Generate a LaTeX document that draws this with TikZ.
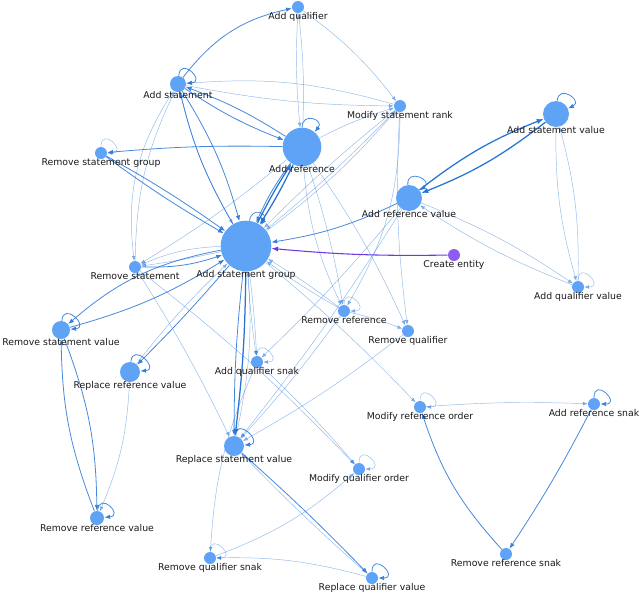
\documentclass[tikz,border=0pt]{standalone}
\usepackage{fontspec}
\setmainfont{DejaVu Sans}
\usetikzlibrary{arrows.meta}
\pgfdeclarelayer{edges}
\pgfdeclarelayer{labels}
\pgfsetlayers{edges,main,labels}
\definecolor{nodeblue}{RGB}{94,163,245}
\definecolor{edgeblue}{RGB}{38,116,214}
\definecolor{cepurple}{RGB}{140,92,245}
\definecolor{edgepurple}{RGB}{108,58,222}
\definecolor{labcol}{RGB}{25,25,25}
\tikzset{
  nd/.style={circle,fill=nodeblue,draw=none,inner sep=0pt,minimum size=#1},
  lab/.style={anchor=north,inner sep=0pt,font=\fontsize{7}{8}\selectfont,text=labcol,yshift=0.9pt},
  e1/.style={draw=edgeblue,opacity=0.5,line width=0.35pt,-{Latex[length=3.6pt,width=2.8pt]}},
  e2/.style={draw=edgeblue,opacity=0.85,line width=0.6pt,-{Latex[length=4.4pt,width=3.4pt]}},
  e3/.style={draw=edgeblue,opacity=1,line width=0.95pt,-{Latex[length=5.2pt,width=4pt]}},
  pe/.style={draw=edgepurple,line width=0.8pt,-{Latex[length=5pt,width=3.8pt]}}
}
\newcommand\sloop[5]{\draw[#1] (#2.#3) .. controls +(#3:#5) and +(#4:#5) .. (#2.#4);}
\begin{document}
\begin{tikzpicture}[x=0.75pt,y=-0.75pt]
\useasboundingbox (0,0) rectangle (640,593);
% nodes
\node[nd=9pt] (AQ) at (298,7) {};
\node[nd=12pt] (AS) at (178,84) {};
\node[nd=9pt] (MSR) at (400,106) {};
\node[nd=29pt] (AR) at (302,147) {};
\node[nd=9pt] (RSG) at (101,153) {};
\node[nd=19.5pt] (ASV) at (556,114) {};
\node[nd=19.5pt] (ARV) at (409,198) {};
\node[nd=38pt] (ASG) at (246,246) {};
\node[nd=9pt] (RS) at (135,267) {};
\node[nd=9pt,fill=cepurple] (CE) at (454,255) {};
\node[nd=9pt] (AQV) at (578,287) {};
\node[nd=9pt] (RR) at (344,311) {};
\node[nd=9pt] (RQ) at (408,331) {};
\node[nd=13.5pt] (RSV) at (61,330) {};
\node[nd=15pt] (RRV) at (130,372) {};
\node[nd=9pt] (AQS) at (257,362) {};
\node[nd=9pt] (MRO) at (420,407) {};
\node[nd=9pt] (ARS) at (594,404) {};
\node[nd=15pt] (RpSV) at (234,446) {};
\node[nd=9pt] (MQO) at (359,469) {};
\node[nd=10.5pt] (RmRV) at (97,518) {};
\node[nd=9pt] (RQS) at (210,558) {};
\node[nd=9pt] (RRS) at (506,554) {};
\node[nd=9pt] (RQV) at (372,578) {};
% labels
\begin{pgfonlayer}{labels}
\node[lab] (lAQ) at (AQ.south) {Add qualifier};
\node[lab] (lAS) at (AS.south) {Add statement};
\node[lab] (lMSR) at (MSR.south) {Modify statement rank};
\node[lab] (lAR) at (AR.south) {Add reference};
\node[lab] (lRSG) at (RSG.south) {Remove statement group};
\node[lab] (lASV) at (ASV.south) {Add statement value};
\node[lab] (lARV) at (ARV.south) {Add reference value};
\node[lab] (lASG) at (ASG.south) {Add statement group};
\node[lab] (lRS) at (RS.south) {Remove statement};
\node[lab] (lCE) at (CE.south) {Create entity};
\node[lab] (lAQV) at (AQV.south) {Add qualifier value};
\node[lab] (lRR) at (RR.south) {Remove reference};
\node[lab] (lRQ) at (RQ.south) {Remove qualifier};
\node[lab] (lRSV) at (RSV.south) {Remove statement value};
\node[lab] (lRRV) at (RRV.south) {Replace reference value};
\node[lab] (lAQS) at (AQS.south) {Add qualifier snak};
\node[lab] (lMRO) at (MRO.south) {Modify reference order};
\node[lab] (lARS) at (ARS.south) {Add reference snak};
\node[lab] (lRpSV) at (RpSV.south) {Replace statement value};
\node[lab] (lMQO) at (MQO.south) {Modify qualifier order};
\node[lab] (lRmRV) at (RmRV.south) {Remove reference value};
\node[lab] (lRQS) at (RQS.south) {Remove qualifier snak};
\node[lab] (lRRS) at (RRS.south) {Remove reference snak};
\node[lab] (lRQV) at (RQV.south) {Replace qualifier value};
\end{pgfonlayer}
% edges
\begin{pgfonlayer}{edges}
\draw[e2] (AS) to[bend left=20] (AQ);
\draw[e1] (AQ) to[bend left=8] (MSR);
\draw[e1] (AQ) to[bend right=4] (AR);
\draw[e1] (AR) to[bend right=4] (AQ);
\draw[e1] (MSR) to[bend right=10] (AS);
\draw[e1] (AS) to[bend right=5] (MSR);
\draw[e1] (AR) to[bend left=5] (MSR);
\draw[e1] (MSR) to[bend left=3] (ASG);
\draw[e1] (MSR) to[bend right=3] (ASG);
\draw[e1] (ASG) to[bend right=6] (MSR);
\draw[e1] (MSR) to[bend left=15] (RR);
\draw[e1] (MSR) to[bend right=5] (RQ);
\draw[e2] (AS) to[bend right=6] (AR);
\draw[e2] (AR) to[bend right=6] (AS);
\draw[e2] (AR) to[bend right=3] (RSG);
\draw[e2] (RSG) to[bend left=3] (ASG);
\draw[e2] (RSG) to[bend right=3] (ASG);
\draw[e2] (AS) to[bend left=8] (ASG);
\draw[e2] (ASG) to[bend left=8] (AS);
\draw[e1] (AS) to[bend right=8] (ASG);
\draw[e1] (AS) to[bend right=20] (RS);
\draw[e1] (RS) to[bend left=12] (AS);
\draw[e1] (AR) to[bend left=4] (RS);
\draw[e3] (AR) to[bend left=3] (ASG);
\draw[e3] (ASG) to[bend left=3] (AR);
\draw[e2] (AR) to[bend right=6] (ASG);
\draw[e1] (ASG) to[bend right=10] (RS);
\draw[e1] (ASG) to[bend left=2] (RS);
\draw[e2] (RS) to[bend right=10] (ASG);
\draw[e2] (ASG) to[bend right=15] (RSV);
\draw[e2] (RSV) to[bend right=8] (ASG);
\draw[e2] (ASG) to[bend left=2] (RRV);
\draw[e1] (RRV) to[bend left=4] (ASG);
\draw[e3] (ASG) to[bend left=3] (RpSV);
\draw[e2] (ASG) to[bend right=3] (RpSV);
\draw[e1] (RpSV) to[bend right=8] (ASG);
\draw[e1] (ASG) to[bend left=2] (AQS);
\draw[e1] (ASG) to[bend right=2] (AQS);
\draw[e1] (ARV) to[bend left=3] (AQS);
\draw[e1] (ARV) to[bend left=3] (RpSV);
\draw[e2] (ARV) to[bend left=8] (ASG);
\draw[pe] (CE) to[bend left=3] (ASG);
\draw[e3] (ARV) to[bend left=8] (ASV);
\draw[e3] (ASV) to[bend left=8] (ARV);
\draw[e1] (ASV) to[bend right=8] (AQV);
\draw[e1] (AQV) to[bend right=8] (ASV);
\draw[e1] (ARV) to[bend left=6] (AQV);
\draw[e1] (AQV) to[bend left=6] (ARV);
\draw[e1] (AR) to[bend right=10] (RR);
\draw[e1] (AR) to[bend left=4] (RR);
\draw[e1] (AR) to[bend left=5] (RQ);
\draw[e1] (RR) to[bend left=3] (ASG);
\draw[e1] (RR) to[bend right=3] (ASG);
\draw[e1] (RR) to[bend left=4] (RQ);
\draw[e1] (RR) to[bend left=3] (RpSV);
\draw[e1] (ASG) to[bend left=3] (MRO);
\draw[e1] (RQ) to[bend left=4] (RpSV);
\draw[e1] (AQS) to[bend left=3] (MQO);
\draw[e1] (RS) to[bend left=4] (MQO);
\draw[e1] (RS) to[bend left=3] (RpSV);
\draw[e1] (AQS) to[bend right=10] (RQS);
\draw[e1] (RQS) to[bend right=10] (MQO);
\draw[e1] (RQV) to[bend right=8] (RQS);
\draw[e2] (RpSV) to[bend left=2] (RQV);
\draw[e1] (RQV) to[bend left=2] (RpSV);
\draw[e1] (MRO) to[bend left=3] (ARS);
\draw[e2] (ARS) to[bend left=3] (RRS);
\draw[e2] (RRS) to[bend left=12] (MRO);
\draw[e2] (RSV) to[bend left=10] (RmRV);
\draw[e2] (RmRV) to[bend left=10] (RSV);
\draw[e1] (RRV) to[bend left=10] (RmRV);
% self loops
\sloop{e2}{AS}{85}{5}{15pt}
\sloop{e2}{AR}{90}{50}{12pt}
\sloop{e1}{RSG}{90}{0}{16pt}
\sloop{e2}{ASV}{85}{25}{13pt}
\sloop{e2}{ARV}{95}{35}{13pt}
\sloop{e2}{ASG}{82}{55}{11pt}
\sloop{e1}{AQV}{90}{0}{16pt}
\sloop{e1}{RR}{90}{0}{16pt}
\sloop{e2}{RSV}{85}{5}{15pt}
\sloop{e2}{RRV}{85}{5}{15pt}
\sloop{e1}{AQS}{90}{0}{16pt}
\sloop{e1}{MRO}{90}{0}{16pt}
\sloop{e2}{ARS}{90}{0}{16pt}
\sloop{e2}{RpSV}{85}{5}{15pt}
\sloop{e1}{MQO}{90}{0}{16pt}
\sloop{e2}{RmRV}{85}{5}{15pt}
\sloop{e1}{RQS}{90}{0}{16pt}
\sloop{e2}{RQV}{90}{0}{16pt}
\end{pgfonlayer}
\end{tikzpicture}
\end{document}
